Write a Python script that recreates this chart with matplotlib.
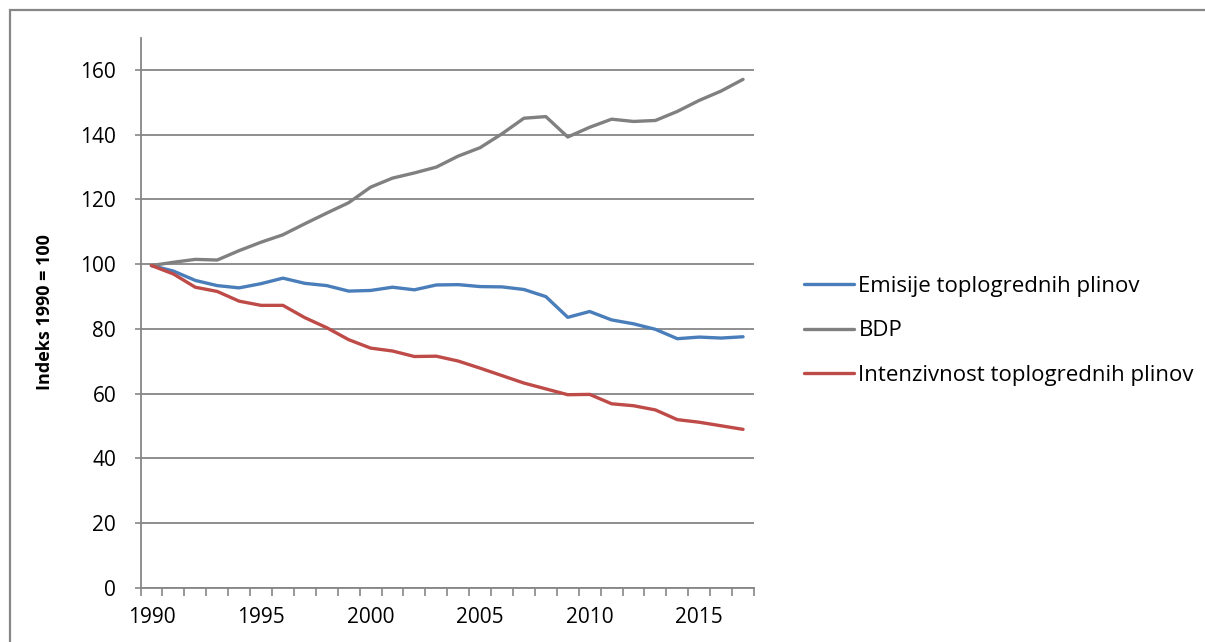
import matplotlib
matplotlib.use("Agg")
import matplotlib.pyplot as plt
from matplotlib.patches import Rectangle
from matplotlib.ticker import MultipleLocator, FixedLocator

plt.rcParams['font.family'] = ['Open Sans', 'DejaVu Sans']

years = list(range(1990, 2018))

emisije = [99.6, 97.9, 95.0, 93.4, 92.7, 94.0, 95.7, 94.1, 93.4, 91.7,
           91.9, 92.9, 92.1, 93.6, 93.7, 93.1, 93.0, 92.2, 90.0, 83.6,
           85.4, 82.8, 81.6, 79.9, 77.0, 77.5, 77.2, 77.6]

bdp = [99.6, 100.6, 101.5, 101.3, 104.2, 106.8, 109.1, 112.5, 115.8, 119.0,
       123.8, 126.6, 128.2, 130.0, 133.4, 136.0, 140.3, 145.1, 145.6, 139.3,
       142.3, 144.8, 144.1, 144.4, 147.2, 150.6, 153.5, 157.1]

intenzivnost = [99.6, 97.0, 92.9, 91.6, 88.6, 87.3, 87.3, 83.5, 80.4, 76.7,
                74.1, 73.2, 71.5, 71.6, 70.1, 67.9, 65.6, 63.3, 61.5, 59.7,
                59.8, 56.9, 56.3, 55.0, 52.0, 51.2, 50.1, 49.0]

series_labels = ["Emisije toplogrednih plinov", "BDP",
                 "Intenzivnost toplogrednih plinov"]
series_colors = ["#4A7EBB", "#808080", "#BE4B48"]

y_label = "Indeks 1990 = 100"

W, H = 1205, 642
fig = plt.figure(figsize=(W / 100, H / 100), dpi=100)

# outer chart-area frame
fig.patches.append(Rectangle((10 / W, -0.05), 1.2, 1 - 10 / H + 0.05,
                             transform=fig.transFigure, fill=False,
                             edgecolor="#878787", linewidth=1.6))

left, right = 140.5 / W, 754 / W
bottom, top = (H - 588) / H, (H - 37.6) / H
ax = fig.add_axes([left, bottom, right - left, top - bottom])

grid_color = "#868686"
for vals, lab, col in zip([emisije, bdp, intenzivnost], series_labels, series_colors):
    ax.plot(years, vals, color=col, linewidth=2.4, label=lab,
            solid_joinstyle="round", solid_capstyle="round")

ax.set_xlim(1989.5, 2017.5)
ax.set_ylim(0, 170)

ax.yaxis.set_major_locator(MultipleLocator(20))
ax.grid(axis="y", color=grid_color, linewidth=1.3)
ax.set_axisbelow(True)

ax.xaxis.set_major_locator(FixedLocator(list(range(1990, 2016, 5))))
ax.xaxis.set_minor_locator(FixedLocator([y - 0.5 for y in range(1990, 2019)]))
ax.tick_params(axis="x", which="major", length=0, pad=14, labelsize=15)
ax.tick_params(axis="x", which="minor", length=5.5, width=1.2,
               color=grid_color, direction="out")
ax.tick_params(axis="y", which="major", length=4.5, width=1.2,
               color=grid_color, direction="out", pad=13, labelsize=15)

for s in ["top", "right"]:
    ax.spines[s].set_visible(False)
for s in ["left", "bottom"]:
    ax.spines[s].set_color(grid_color)
    ax.spines[s].set_linewidth(1.3)

fig.text(45 / W, 1 - 312 / H, y_label, rotation=90, ha="center", va="center",
         fontsize=13, fontweight="bold")

leg = fig.legend(loc="center left", bbox_to_anchor=(804 / W, 1 - 331 / H),
                 frameon=False, fontsize=16, handlelength=2.25,
                 handletextpad=0.2, labelspacing=1.07, borderpad=0,
                 borderaxespad=0)

fig.savefig("out.png", dpi=100)
